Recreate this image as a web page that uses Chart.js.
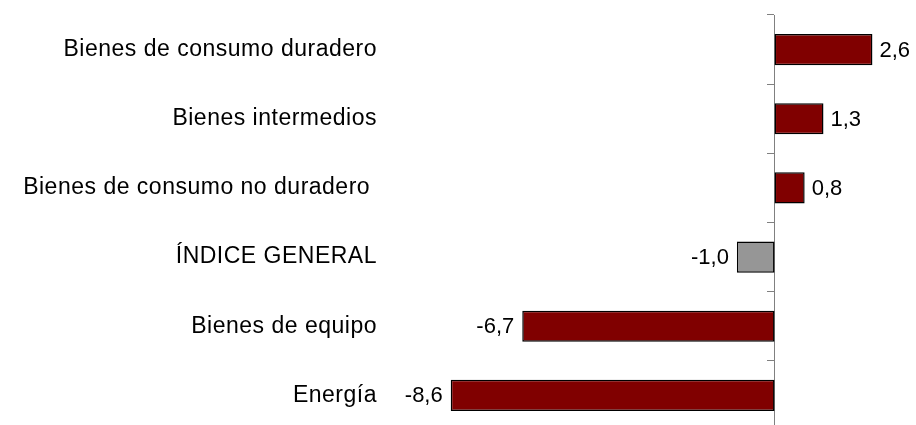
<!DOCTYPE html>
<html>
<head>
<meta charset="utf-8">
<script src="https://cdn.jsdelivr.net/npm/chart.js@4.4.0/dist/chart.umd.min.js"></script>
<style>
html, body { margin: 0; padding: 0; background: #fff; overflow: hidden; }
#wrap { width: 916px; height: 430px; }
</style>
</head>
<body>
<div id="wrap"><canvas id="myChart"></canvas></div>
<script>
var label = ["Bienes de consumo duradero", "Bienes intermedios", "Bienes de consumo no duradero ", "ÍNDICE GENERAL", "Bienes de equipo", "Energía"];
var tasa = [2.6, 1.3, 0.8, -1.0, -6.7, -8.6];
var ejeMin = -10;
var ejeMax = 3;

var fuente = '"Liberation Sans", Arial, sans-serif';

// etiquetas de valor al lado de cada barra
var etiquetas = {
	id: 'etiquetas',
	beforeDraw: function(chart){
		chart.ctx.letterSpacing = '0.5px';
	},
	afterDatasetsDraw: function(chart){
		var ctx = chart.ctx;
		var meta = chart.getDatasetMeta(0);
		ctx.save();
		ctx.letterSpacing = '0px';
		ctx.font = '22px ' + fuente;
		ctx.fillStyle = '#000';
		ctx.textBaseline = 'middle';
		meta.data.forEach(function(bar, i){
			var v = tasa[i];
			var txt = v.toFixed(1).replace('.', ',');
			if(v >= 0){
				ctx.textAlign = 'left';
				ctx.fillText(txt, bar.x + 7, bar.y + 1);
			} else {
				ctx.textAlign = 'right';
				ctx.fillText(txt, bar.x - 8, bar.y + 1);
			}
		});
		ctx.restore();
	}
};

var ctx = document.getElementById("myChart");
var myChart = new Chart(ctx, {
	type: 'bar',
	data: {
		labels: label,
		datasets: [{
			label: 'Tasa',
			data: tasa,
			backgroundColor: function(c){
				return label[c.dataIndex] === "ÍNDICE GENERAL" ? '#969696' : '#800000';
			},
			borderColor: '#000',
			borderWidth: 1.5,
			borderSkipped: false,
			categoryPercentage: 1,
			barPercentage: 0.45
		}]
	},
	options: {
		indexAxis: 'y',
		responsive: true,
		maintainAspectRatio: false,
		animation: false,
		layout: { padding: { top: 15, right: 28.5, bottom: 0, left: 0 } },
		plugins: {
			legend: { display: false },
			tooltip: { enabled: false }
		},
		scales: {
			x: {
				display: false,
				min: ejeMin,
				max: ejeMax
			},
			y: {
				position: 'left',
				grid: { display: false, drawTicks: false },
				border: { display: false },
				ticks: {
					color: '#000',
					font: { family: fuente, size: 23 },
					padding: 21,
					autoSkip: false
				},
				afterFit: function(s){
					s.width = 398;
					s.paddingTop = 0;
					s.paddingBottom = 0;
				}
			},
			eje: {
				axis: 'y',
				type: 'category',
				position: { x: 0 },
				offset: true,
				grid: { drawOnChartArea: false, drawTicks: true, tickLength: 7, color: '#808080', offset: true },
				border: { display: true, color: '#808080', width: 1 },
				ticks: { display: false },
				afterFit: function(s){
					s.width = 0;
					s.paddingTop = 0;
					s.paddingBottom = 0;
				}
			}
		}
	},
	plugins: [etiquetas]
});
</script>
</body>
</html>
